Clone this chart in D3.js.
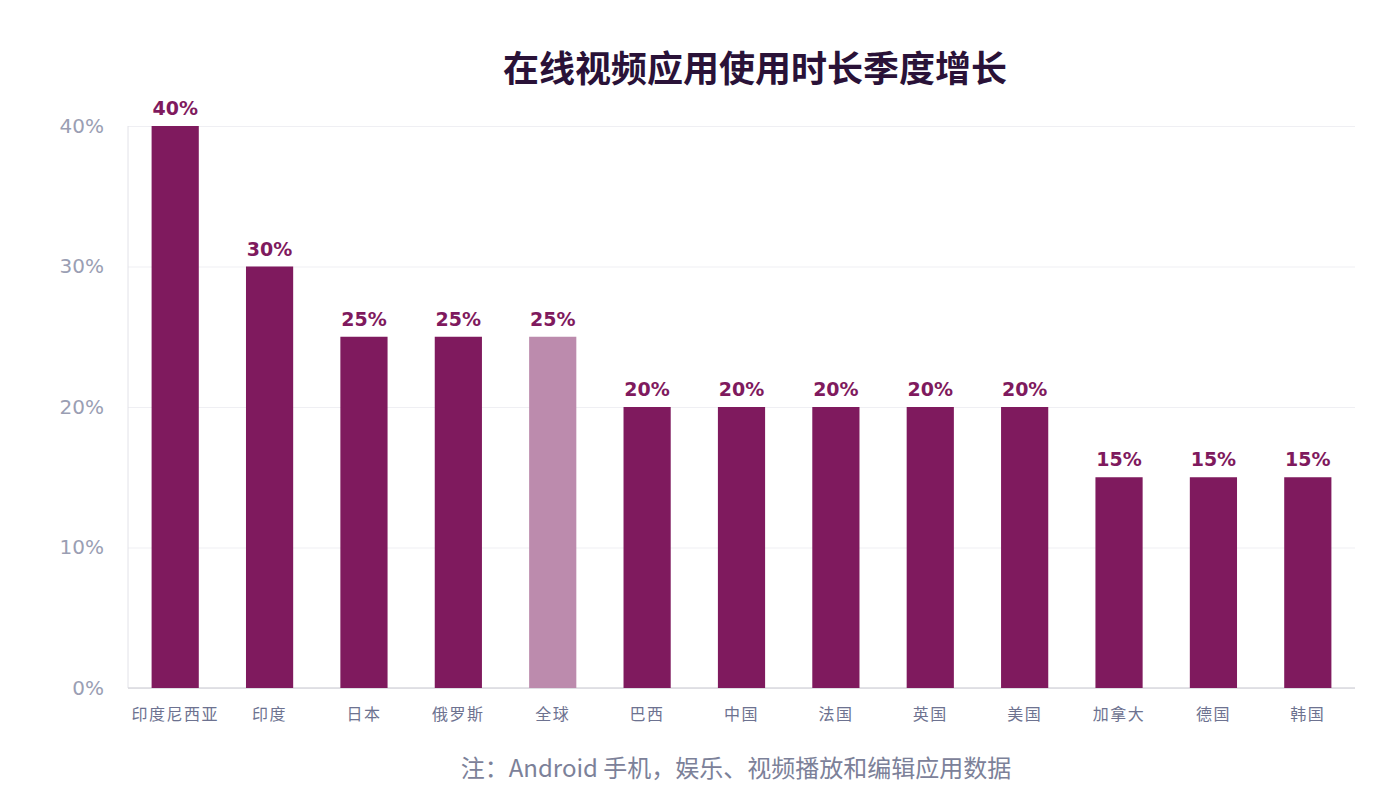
<!DOCTYPE html>
<html>
<head>
<meta charset="utf-8">
<script src="https://cdn.jsdelivr.net/npm/d3@7"></script>
<style>
  body { margin: 0; background: #fff; }
  svg text { font-family: "Noto Sans CJK SC", "Noto Sans", sans-serif; }
  .grid line { stroke: #efeff3; }
  .grid path { display: none; }
  .yaxis text { fill: #9a9eb3; font-size: 20px; font-family: "DejaVu Sans", sans-serif; }
  .yaxis line, .yaxis path { display: none; }
  .xaxis text { fill: #6d7290; font-size: 16px; letter-spacing: 1.5px; }
  .xaxis line, .xaxis path { display: none; }
</style>
</head>
<body>
<script>
// Width and height
var w = 1374,
    h = 796;

var margin = { left: 128, right: 19, top: 126, bottom: 108 };

// data
var countries = ['印度尼西亚', '印度', '日本', '俄罗斯', '全球', '巴西', '中国', '法国', '英国', '美国', '加拿大', '德国', '韩国'];
var growth = [40, 30, 25, 25, 25, 20, 20, 20, 20, 20, 15, 15, 15];
var yTicks = [0, 10, 20, 30, 40];
var highlight = '全球';

var dataset = countries.map(function(c, i) {
  return { country: c, value: growth[i] };
});

var svg = d3.select('body')
            .append('svg')
            .attr('width', w)
            .attr('height', h);

var xScale = d3.scaleBand()
               .domain(countries)
               .range([margin.left, w - margin.right])
               .paddingInner(0.5)
               .paddingOuter(0.25);

var yScale = d3.scaleLinear()
               .domain([0, 40])
               .range([h - margin.bottom, margin.top]);

// gridlines
svg.append('g')
   .attr('class', 'grid')
   .attr('transform', 'translate(' + margin.left + ', 0)')
   .call(d3.axisLeft(yScale)
           .tickValues(yTicks)
           .tickSize(-(w - margin.left - margin.right))
           .tickFormat(''));

// y labels
svg.append('g')
   .attr('class', 'yaxis')
   .attr('transform', 'translate(' + (margin.left - 24) + ', 0)')
   .call(d3.axisLeft(yScale)
           .tickValues(yTicks)
           .tickSize(0)
           .tickPadding(0)
           .tickFormat(function(d) { return d + '%'; }));

// left axis line + baseline
svg.append('line')
   .attr('x1', margin.left).attr('x2', margin.left)
   .attr('y1', yScale(40)).attr('y2', yScale(0))
   .attr('stroke', '#e2e2e8');

svg.append('line')
   .attr('x1', margin.left).attr('x2', w - margin.right)
   .attr('y1', yScale(0)).attr('y2', yScale(0))
   .attr('stroke', '#d8d8de')
   .attr('stroke-width', 1.5);

// bars
svg.selectAll('rect.bar')
   .data(dataset)
   .enter()
   .append('rect')
   .attr('class', 'bar')
   .attr('x', function(d) { return xScale(d.country); })
   .attr('y', function(d) { return yScale(d.value); })
   .attr('width', xScale.bandwidth())
   .attr('height', function(d) { return yScale(0) - yScale(d.value); })
   .attr('fill', function(d) { return d.country === highlight ? '#bc8bad' : '#7f1a5e'; });

// value labels
svg.selectAll('text.val')
   .data(dataset)
   .enter()
   .append('text')
   .attr('class', 'val')
   .attr('x', function(d) { return xScale(d.country) + xScale.bandwidth() / 2; })
   .attr('y', function(d) { return yScale(d.value) - 11; })
   .attr('text-anchor', 'middle')
   .attr('fill', '#7f1a5e')
   .attr('font-size', '19px')
   .attr('font-weight', 'bold')
   .style('font-family', '"DejaVu Sans", sans-serif')
   .text(function(d) { return d.value + '%'; });

// x labels
svg.append('g')
   .attr('class', 'xaxis')
   .attr('transform', 'translate(0, ' + (yScale(0) + 21) + ')')
   .call(d3.axisBottom(xScale).tickSize(0).tickPadding(0));

// title
svg.append('text')
   .attr('x', 755)
   .attr('y', 82)
   .attr('text-anchor', 'middle')
   .attr('fill', '#2a1238')
   .attr('font-size', '36px')
   .attr('font-weight', 'bold')
   .text('在线视频应用使用时长季度增长');

// note
svg.append('text')
   .attr('x', 736)
   .attr('y', 777)
   .attr('text-anchor', 'middle')
   .attr('fill', '#7c8199')
   .attr('font-size', '24px')
   .text('注：Android 手机，娱乐、视频播放和编辑应用数据');
</script>
</body>
</html>
